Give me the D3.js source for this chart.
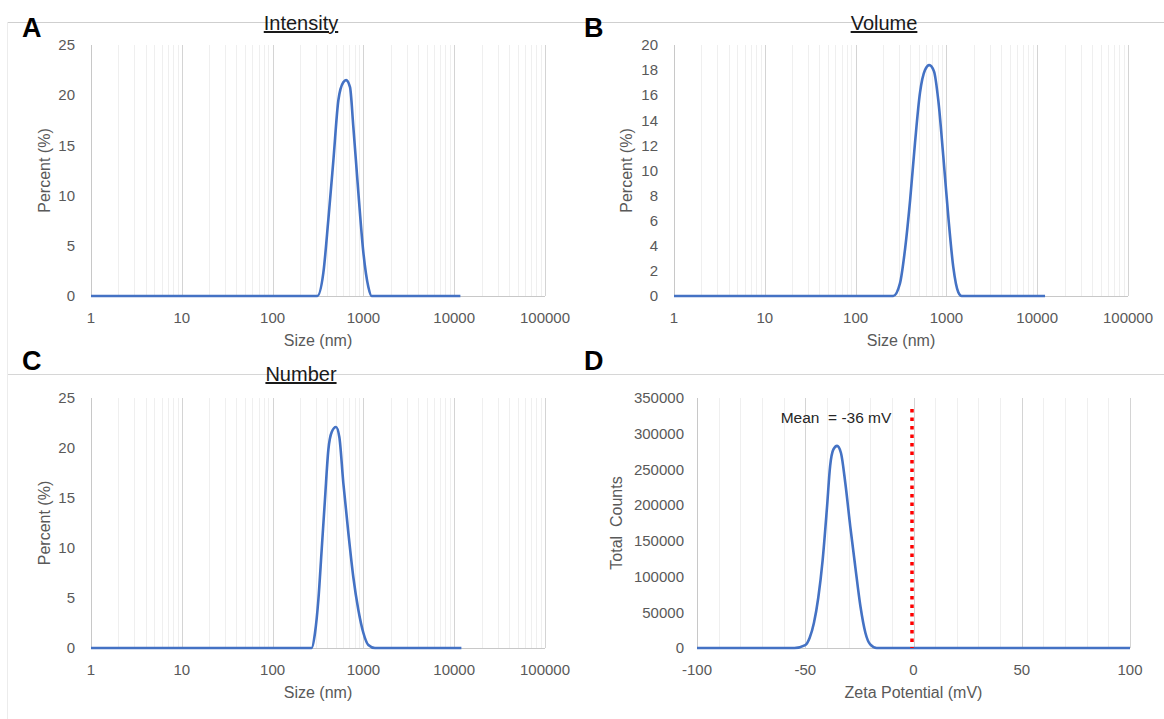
<!DOCTYPE html>
<html>
<head>
<meta charset="utf-8">
<script src="https://cdn.jsdelivr.net/npm/d3@7"></script>
<style>
  html, body { margin: 0; padding: 0; background: #fff; }
  text { font-family: "Liberation Sans", Arial, sans-serif; }
</style>
</head>
<body>
<svg id="chart" width="1164" height="719"></svg>
<script>
// ---------- DATA ----------
const intensitySize = [1, 311, 362, 411, 467, 530, 601, 645, 712, 774, 880, 1000, 1134, 1232, 11700];
const intensityPct  = [0, 0, 2.3, 7.6, 13.5, 19.5, 21.3, 21.5, 20.8, 16.9, 10.3, 4.3, 0.9, 0, 0];

const volumeSize = [1, 260, 308, 350, 398, 451, 512, 581, 648, 730, 814, 925, 1050, 1191, 1352, 1472, 12200];
const volumePct  = [0, 0, 1.0, 3.7, 7.6, 12.2, 16.2, 18.0, 18.4, 17.9, 15.6, 11.1, 6.3, 2.3, 0.3, 0, 0];

const numberSize = [1, 269, 293, 319, 347, 377, 411, 448, 499, 543, 601, 683, 774, 880, 1000, 1134, 1342, 12000];
const numberPct  = [0, 0, 1.5, 4.8, 9.8, 14.8, 19.8, 21.6, 22.1, 21.1, 16.5, 11.5, 7.1, 3.8, 1.5, 0.3, 0, 0];

const zetaMv     = [-100, -55, -50, -48, -46, -44, -42, -40, -38.5, -37, -35.3, -33.5, -31.5, -29.2, -26.9, -24.5, -22.2, -20, -17, 100];
const zetaCounts = [0, 0, 4000, 14000, 35000, 70000, 122000, 195000, 255000, 278000, 283000, 273000, 231000, 170000, 114000, 58000, 21000, 5000, 0, 0];

const sizeTicks = [1, 10, 100, 1000, 10000, 100000];
const pctTicks25 = [0, 5, 10, 15, 20, 25];
const pctTicks20 = [0, 2, 4, 6, 8, 10, 12, 14, 16, 18, 20];
const countTicks = [0, 50000, 100000, 150000, 200000, 250000, 300000, 350000];
const zetaTicks = [-100, -50, 0, 50, 100];
const zetaMean = 0; // position of dotted reference line
const zetaMeanLabel = "Mean  = -36 mV";

// ---------- DRAW ----------
const svg = d3.select("#chart");
const TXT = "#595959";
const BLUE = "#4472c4";
const FS = 15;
const FT = 16;

// chart frame lines
svg.append("line").attr("x1", 8).attr("x2", 1164).attr("y1", 22.5).attr("y2", 22.5).attr("stroke", "#cfcfcf");
svg.append("line").attr("x1", 8).attr("x2", 1164).attr("y1", 374.5).attr("y2", 374.5).attr("stroke", "#d6d6d6");
svg.append("line").attr("x1", 7.5).attr("x2", 7.5).attr("y1", 22).attr("y2", 719).attr("stroke", "#ececec");

function logPanel(cfg) {
  const g = svg.append("g");
  const x = d3.scaleLog().domain([1, 100000]).range(cfg.xr);
  const y = d3.scaleLinear().domain([0, cfg.ymax]).range(cfg.yr);
  const minors = [];
  for (let d = 1; d < 100000; d *= 10) for (let k = 2; k <= 9; k++) minors.push(d * k);
  g.selectAll(".minor").data(minors).join("line")
    .attr("x1", d => Math.round(x(d)) + 0.5).attr("x2", d => Math.round(x(d)) + 0.5)
    .attr("y1", cfg.yr[1]).attr("y2", cfg.yr[0])
    .attr("stroke", "#efefef").attr("stroke-width", 1);
  g.selectAll(".major").data(sizeTicks.slice(1)).join("line")
    .attr("x1", d => Math.round(x(d)) + 0.5).attr("x2", d => Math.round(x(d)) + 0.5)
    .attr("y1", cfg.yr[1]).attr("y2", cfg.yr[0])
    .attr("stroke", "#d4d4d4").attr("stroke-width", 1);
  g.append("line").attr("x1", cfg.xr[0] + 0.5).attr("x2", cfg.xr[0] + 0.5)
    .attr("y1", cfg.yr[1]).attr("y2", cfg.yr[0]).attr("stroke", "#c8c8c8");
  g.append("line").attr("x1", cfg.xr[0]).attr("x2", cfg.xr[1])
    .attr("y1", cfg.yr[0] + 0.5).attr("y2", cfg.yr[0] + 0.5).attr("stroke", "#c8c8c8");
  g.selectAll(".yl").data(cfg.yticks).join("text")
    .attr("x", cfg.xr[0] - 16).attr("y", d => y(d)).attr("dy", "0.35em")
    .attr("text-anchor", "end").attr("font-size", FS).attr("fill", TXT).text(d => d);
  g.selectAll(".xl").data(sizeTicks).join("text")
    .attr("x", d => x(d)).attr("y", cfg.yr[0] + 27)
    .attr("text-anchor", "middle").attr("font-size", FS).attr("fill", TXT).text(d => d);
  const cx = (cfg.xr[0] + cfg.xr[1]) / 2;
  g.append("text").attr("x", cx).attr("y", cfg.yr[0] + 50)
    .attr("text-anchor", "middle").attr("font-size", FT).attr("fill", TXT).text("Size (nm)");
  const cy = (cfg.yr[0] + cfg.yr[1]) / 2;
  g.append("text").attr("transform", `translate(${cfg.ytx},${cy}) rotate(-90)`)
    .attr("text-anchor", "middle").attr("font-size", FT).attr("fill", TXT).text("Percent (%)");
  const pts = cfg.xs.map((v, i) => [v, cfg.ys[i]]);
  g.append("path").datum(pts)
    .attr("d", d3.line().x(d => x(d[0])).y(d => y(d[1])).curve(d3.curveMonotoneX))
    .attr("fill", "none").attr("stroke", BLUE).attr("stroke-width", 2.6)
    .attr("stroke-linejoin", "round");
  if (cfg.title) {
    g.append("text").attr("x", cfg.titleX).attr("y", cfg.titleY)
      .attr("text-anchor", "middle").attr("font-size", 20).attr("fill", "#1a1a1a")
      .attr("text-decoration", "underline").text(cfg.title);
  }
}

logPanel({ xr: [91, 545], yr: [296, 45], ymax: 25, yticks: pctTicks25, ytx: 50,
  xs: intensitySize, ys: intensityPct, title: "Intensity", titleX: 301, titleY: 30 });
logPanel({ xr: [674, 1128], yr: [296, 45], ymax: 20, yticks: pctTicks20, ytx: 632,
  xs: volumeSize, ys: volumePct, title: "Volume", titleX: 884, titleY: 30 });
logPanel({ xr: [91, 545], yr: [648, 398], ymax: 25, yticks: pctTicks25, ytx: 50,
  xs: numberSize, ys: numberPct, title: "Number", titleX: 301, titleY: 381 });

// Panel D
(function () {
  const g = svg.append("g");
  const xr = [697, 1130], yr = [648, 398];
  const x = d3.scaleLinear().domain([-100, 100]).range(xr);
  const y = d3.scaleLinear().domain([0, 350000]).range(yr);
  const minors = d3.range(-90, 100, 10).filter(v => v % 50 !== 0);
  g.selectAll(".minor").data(minors).join("line")
    .attr("x1", d => Math.round(x(d)) + 0.5).attr("x2", d => Math.round(x(d)) + 0.5)
    .attr("y1", yr[1]).attr("y2", yr[0]).attr("stroke", "#efefef");
  g.selectAll(".major").data(zetaTicks.slice(1)).join("line")
    .attr("x1", d => Math.round(x(d)) + 0.5).attr("x2", d => Math.round(x(d)) + 0.5)
    .attr("y1", yr[1]).attr("y2", yr[0]).attr("stroke", "#d4d4d4");
  g.append("line").attr("x1", xr[0] + 0.5).attr("x2", xr[0] + 0.5)
    .attr("y1", yr[1]).attr("y2", yr[0]).attr("stroke", "#c8c8c8");
  g.append("line").attr("x1", xr[0]).attr("x2", xr[1])
    .attr("y1", yr[0] + 0.5).attr("y2", yr[0] + 0.5).attr("stroke", "#c8c8c8");
  g.selectAll(".yl").data(countTicks).join("text")
    .attr("x", xr[0] - 13).attr("y", d => y(d)).attr("dy", "0.35em")
    .attr("text-anchor", "end").attr("font-size", FS).attr("fill", TXT).text(d => d);
  g.selectAll(".xl").data(zetaTicks).join("text")
    .attr("x", d => x(d)).attr("y", yr[0] + 27)
    .attr("text-anchor", "middle").attr("font-size", FS).attr("fill", TXT).text(d => d);
  g.append("text").attr("x", (xr[0] + xr[1]) / 2).attr("y", yr[0] + 50)
    .attr("text-anchor", "middle").attr("font-size", FT).attr("fill", TXT).text("Zeta Potential (mV)");
  g.append("text").attr("transform", `translate(622,${(yr[0] + yr[1]) / 2}) rotate(-90)`)
    .attr("text-anchor", "middle").attr("font-size", FT).attr("fill", TXT)
    .attr("xml:space", "preserve").text("Total  Counts");
  const pts = zetaMv.map((v, i) => [v, zetaCounts[i]]);
  g.append("path").datum(pts)
    .attr("d", d3.line().x(d => x(d[0])).y(d => y(d[1])).curve(d3.curveMonotoneX))
    .attr("fill", "none").attr("stroke", BLUE).attr("stroke-width", 2.6).attr("stroke-linejoin", "round");
  g.append("line").attr("x1", x(zetaMean) - 1.5).attr("x2", x(zetaMean) - 1.5)
    .attr("y1", 409).attr("y2", yr[0])
    .attr("stroke", "#ff0000").attr("stroke-width", 3.5).attr("stroke-dasharray", "3.5,5");
  g.append("text").attr("x", 836).attr("y", 423).attr("text-anchor", "middle")
    .attr("font-size", 15.5).attr("fill", "#262626").attr("xml:space", "preserve").text(zetaMeanLabel);
})();

// panel letters
const letters = [["A", 22, 37], ["B", 584, 37], ["C", 22, 370], ["D", 584, 370]];
svg.selectAll(".letter").data(letters).join("text")
  .attr("x", d => d[1]).attr("y", d => d[2])
  .attr("font-size", 27).attr("font-weight", "bold").attr("fill", "#000").text(d => d[0]);
</script>
</body>
</html>
